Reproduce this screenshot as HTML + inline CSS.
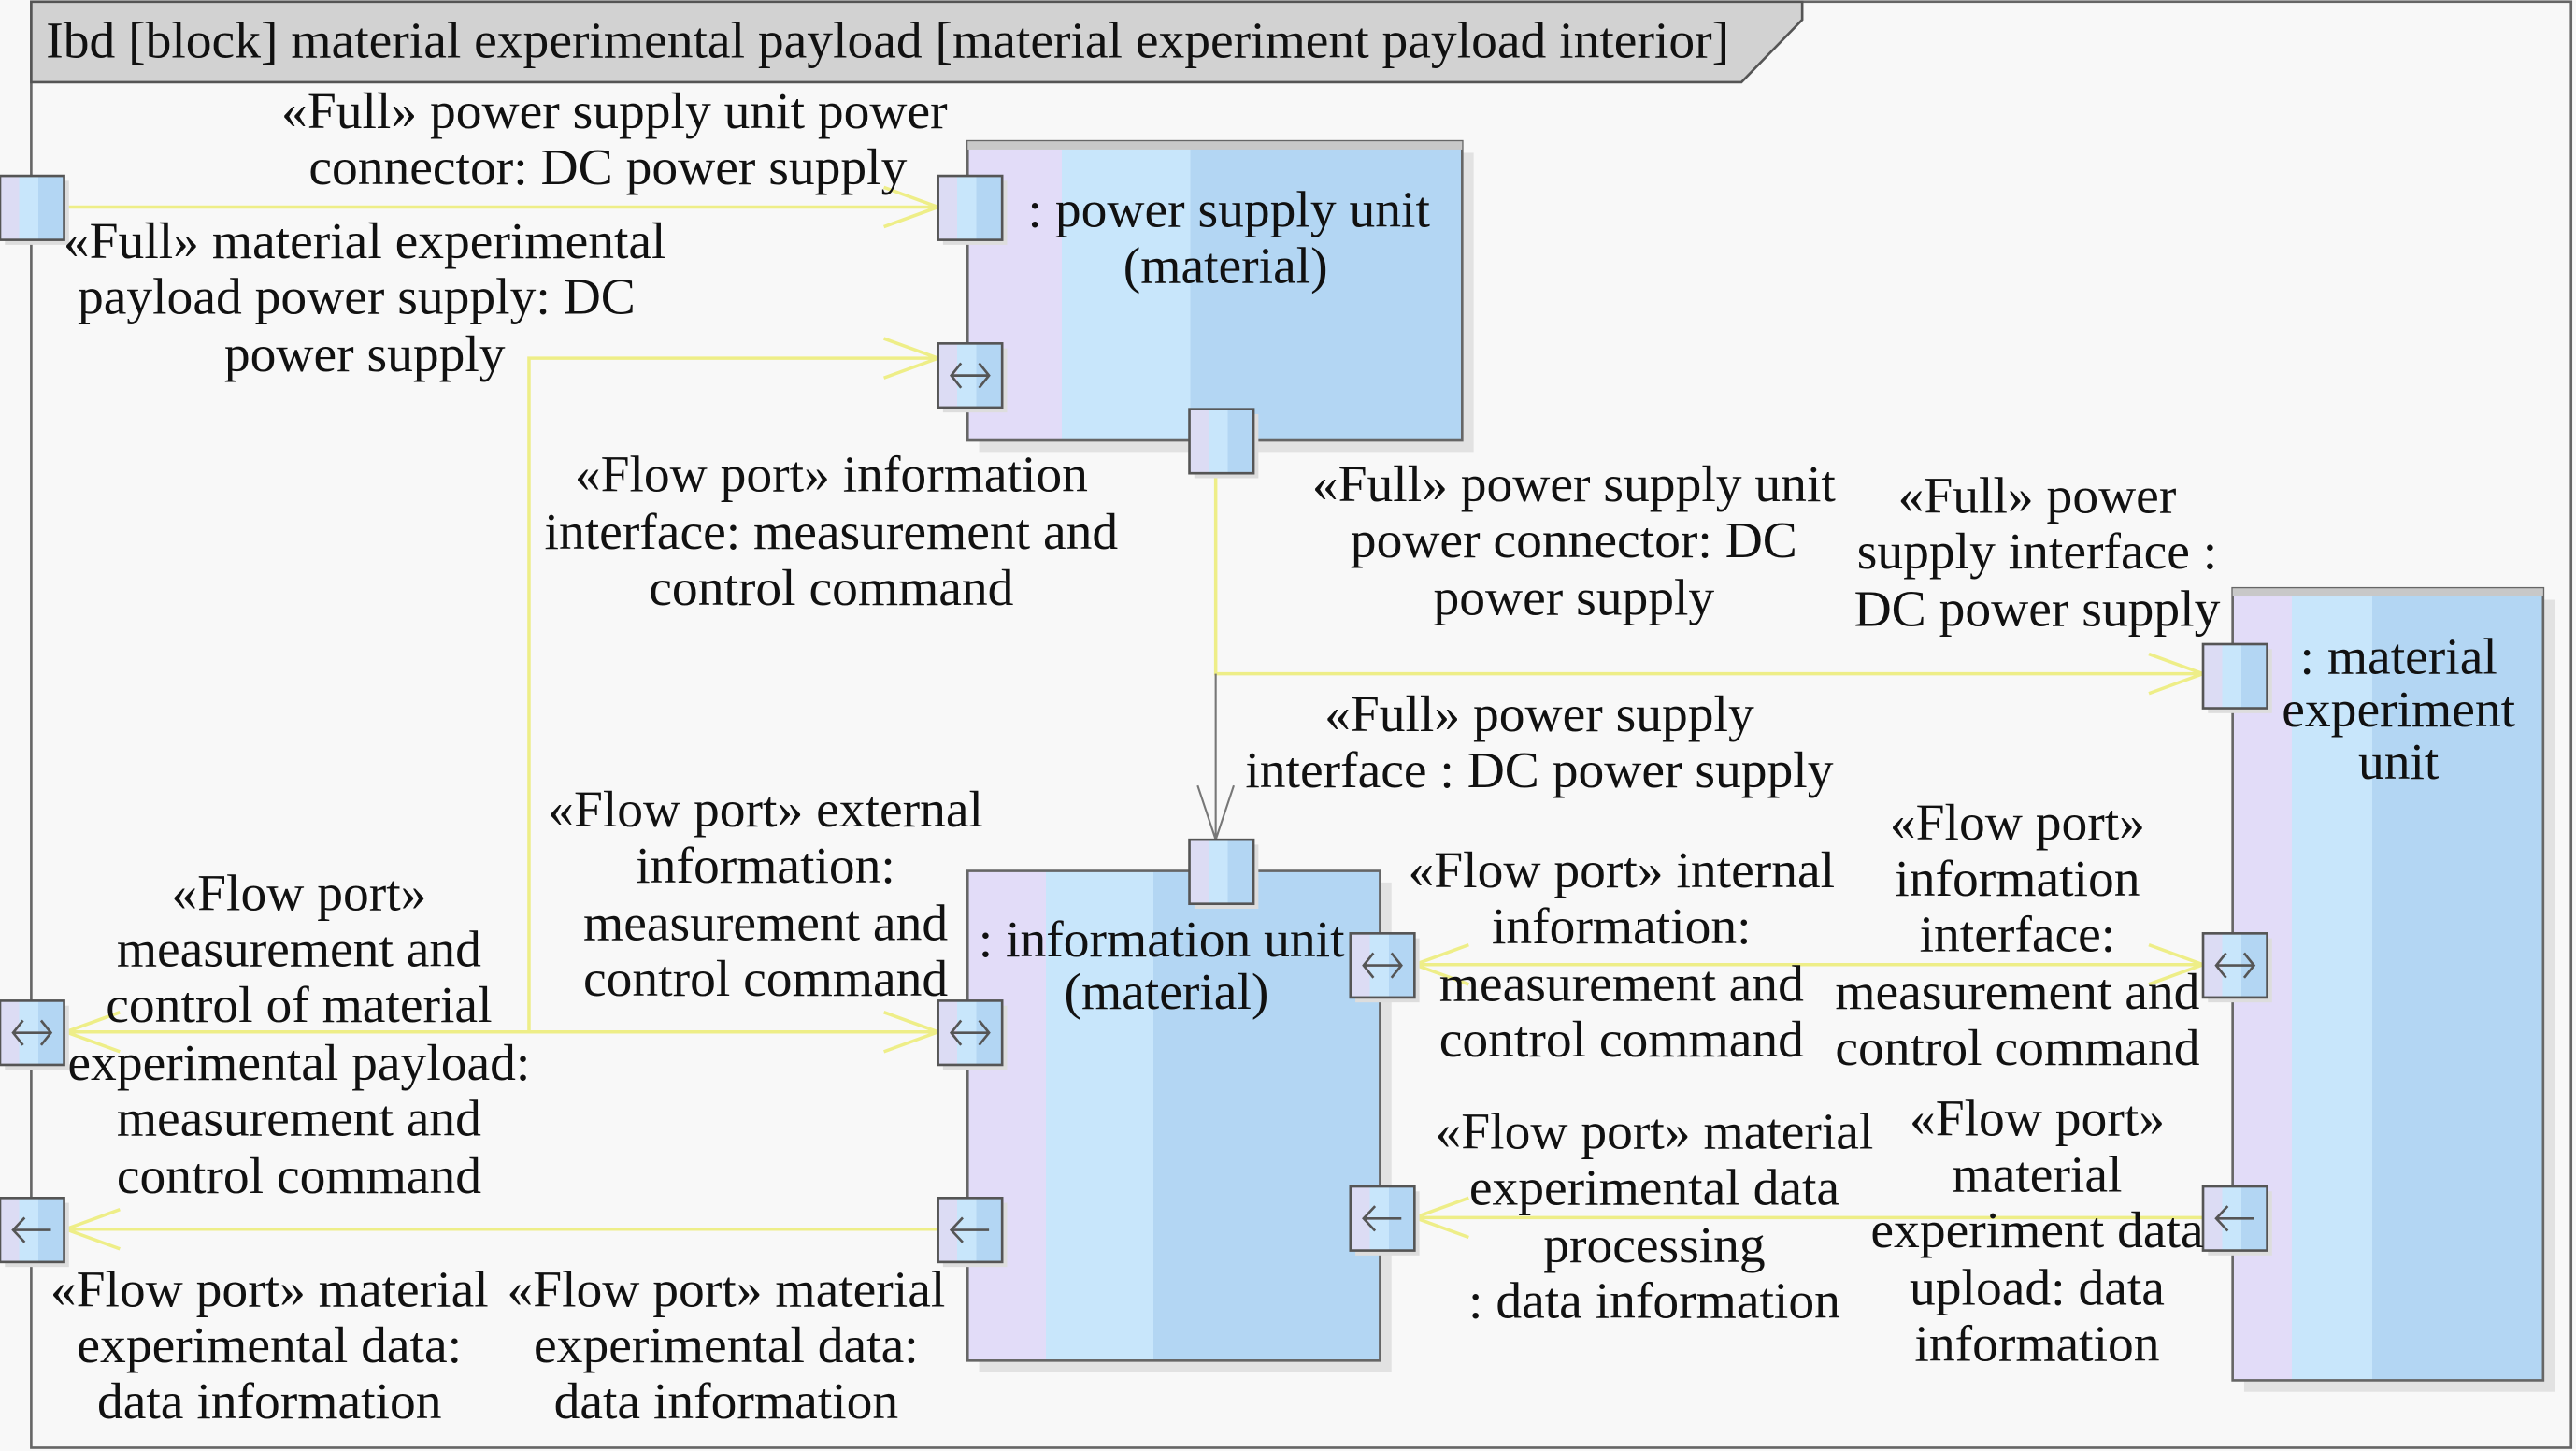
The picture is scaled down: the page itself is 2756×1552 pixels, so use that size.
<!DOCTYPE html>
<html><head><meta charset="utf-8"><style>
html,body{margin:0;padding:0;background:#f8f8f8;}
svg{display:block;}
text{font-family:"Liberation Serif",serif;font-size:31.6px;fill:#111;}
</style></head><body>
<svg width="2756" height="1552" viewBox="0 0 1568 883" preserveAspectRatio="none" xmlns="http://www.w3.org/2000/svg">
<defs>
<linearGradient id="blk" x1="0" x2="1" y1="0" y2="0">
<stop offset="0" stop-color="#e2dcf8"/><stop offset="0.19" stop-color="#e2dcf8"/>
<stop offset="0.19" stop-color="#c8e6fb"/><stop offset="0.45" stop-color="#c8e6fb"/>
<stop offset="0.45" stop-color="#b3d6f3"/><stop offset="1" stop-color="#b3d6f3"/>
</linearGradient>
<linearGradient id="prt" x1="0" x2="1" y1="0" y2="0">
<stop offset="0" stop-color="#dcdcf4"/><stop offset="0.3" stop-color="#dcdcf4"/>
<stop offset="0.3" stop-color="#c8e6fb"/><stop offset="0.6" stop-color="#c8e6fb"/>
<stop offset="0.6" stop-color="#b3d6f3"/><stop offset="1" stop-color="#b3d6f3"/>
</linearGradient>
<g id="port"><rect x="3" y="3" width="39" height="39" fill="#ddd"/><rect x="0" y="0" width="39" height="39" fill="url(#prt)" stroke="#555" stroke-width="1.5"/></g>
<g id="bi"><use href="#port"/><path d="M8 19.5 H31 M14 12 L8 19.5 L14 27 M25 12 L31 19.5 L25 27" fill="none" stroke="#555" stroke-width="1.5"/></g>
<g id="lf"><use href="#port"/><path d="M8 19.5 H31 M15 12 L8 19.5 L15 27" fill="none" stroke="#555" stroke-width="1.5"/></g>
</defs>
<rect width="1568" height="883" fill="#f8f8f8"/>
<rect x="19" y="1" width="1546" height="880" fill="none" stroke="#666" stroke-width="1.5"/>
<polygon points="19,1 1097,1 1097,12 1060,50 19,50" fill="#d2d2d2" stroke="#555" stroke-width="1.5"/>
<text x="28" y="35">Ibd [block] material experimental payload [material experiment payload interior]</text>

<rect x="596" y="93" width="301" height="182" fill="#e2e2e2"/>
<rect x="589" y="86" width="301" height="182" fill="url(#blk)" stroke="#666" stroke-width="1.5"/>
<rect x="589" y="86" width="301" height="5" fill="#c8c8c8"/>
<rect x="596" y="537" width="251" height="298" fill="#e2e2e2"/>
<rect x="589" y="530" width="251" height="298" fill="url(#blk)" stroke="#666" stroke-width="1.5"/>
<rect x="1366" y="365" width="189" height="482" fill="#e2e2e2"/>
<rect x="1359" y="358" width="189" height="482" fill="url(#blk)" stroke="#666" stroke-width="1.5"/>
<rect x="1359" y="358" width="189" height="5" fill="#c8c8c8"/>

<g fill="none" stroke="#eeee88" stroke-width="2">
<path d="M40 126 H571 M538 114 L571 126 L538 138"/>
<path d="M322 628 V218 H571 M538 206 L571 218 L538 230"/>
<path d="M40 628 H571 M538 616 L571 628 L538 640 M73 616 L40 628 L73 640"/>
<path d="M40 748 H571 M73 736 L40 748 L73 760"/>
<path d="M740 288 V410 H1341 M1308 398 L1341 410 L1308 422"/>
<path d="M861 587 H1341 M1308 575 L1341 587 L1308 599 M894 575 L861 587 L894 599"/>
<path d="M861 741 H1341 M894 729 L861 741 L894 753"/>
</g>
<path d="M740 410 V511 M729 478 L740 511 L751 478" fill="none" stroke="#777" stroke-width="1.2"/>

<use href="#port" x="0" y="107"/>
<use href="#port" x="571" y="107"/>
<use href="#bi" x="571" y="209"/>
<use href="#port" x="724" y="249"/>
<use href="#port" x="724" y="511"/>
<use href="#bi" x="571" y="609"/>
<use href="#lf" x="571" y="729"/>
<use href="#bi" x="822" y="568"/>
<use href="#lf" x="822" y="722"/>
<use href="#port" x="1341" y="392"/>
<use href="#bi" x="1341" y="568"/>
<use href="#lf" x="1341" y="722"/>
<use href="#bi" x="0" y="609"/>
<use href="#lf" x="0" y="729"/>

<g text-anchor="middle">
<text x="374" y="78">«Full» power supply unit power</text>
<text x="370" y="112">connector: DC power supply</text>
<text x="222" y="157">«Full» material experimental</text>
<text x="217" y="191">payload power supply: DC</text>
<text x="222" y="226">power supply</text>
<text x="748" y="138">: power supply unit</text>
<text x="746" y="172">(material)</text>
<text x="506" y="299">«Flow port» information</text>
<text x="506" y="334">interface: measurement and</text>
<text x="506" y="368">control command</text>
<text x="958" y="305">«Full» power supply unit</text>
<text x="958" y="339">power connector: DC</text>
<text x="958" y="374">power supply</text>
<text x="1240" y="312">«Full» power</text>
<text x="1240" y="346">supply interface :</text>
<text x="1240" y="381">DC power supply</text>
<text x="1460" y="410">: material</text>
<text x="1460" y="442">experiment</text>
<text x="1460" y="474">unit</text>
<text x="937" y="445">«Full» power supply</text>
<text x="937" y="479">interface : DC power supply</text>
<text x="466" y="503">«Flow port» external</text>
<text x="466" y="537">information:</text>
<text x="466" y="572">measurement and</text>
<text x="466" y="606">control command</text>
<text x="182" y="554">«Flow port»</text>
<text x="182" y="588">measurement and</text>
<text x="182" y="622">control of material</text>
<text x="182" y="657">experimental payload:</text>
<text x="182" y="691">measurement and</text>
<text x="182" y="726">control command</text>
<text x="707" y="582">: information unit</text>
<text x="710" y="614">(material)</text>
<text x="987" y="540">«Flow port» internal</text>
<text x="987" y="574">information:</text>
<text x="987" y="609">measurement and</text>
<text x="987" y="643">control command</text>
<text x="1228" y="511">«Flow port»</text>
<text x="1228" y="545">information</text>
<text x="1228" y="579">interface:</text>
<text x="1228" y="614">measurement and</text>
<text x="1228" y="648">control command</text>
<text x="1007" y="699">«Flow port» material</text>
<text x="1007" y="733">experimental data</text>
<text x="1007" y="768">processing</text>
<text x="1007" y="802">: data information</text>
<text x="1240" y="691">«Flow port»</text>
<text x="1240" y="725">material</text>
<text x="1240" y="759">experiment data</text>
<text x="1240" y="794">upload: data</text>
<text x="1240" y="828">information</text>
<text x="164" y="795">«Flow port» material</text>
<text x="164" y="829">experimental data:</text>
<text x="164" y="863">data information</text>
<text x="442" y="795">«Flow port» material</text>
<text x="442" y="829">experimental data:</text>
<text x="442" y="863">data information</text>
</g>
</svg>
</body></html>
